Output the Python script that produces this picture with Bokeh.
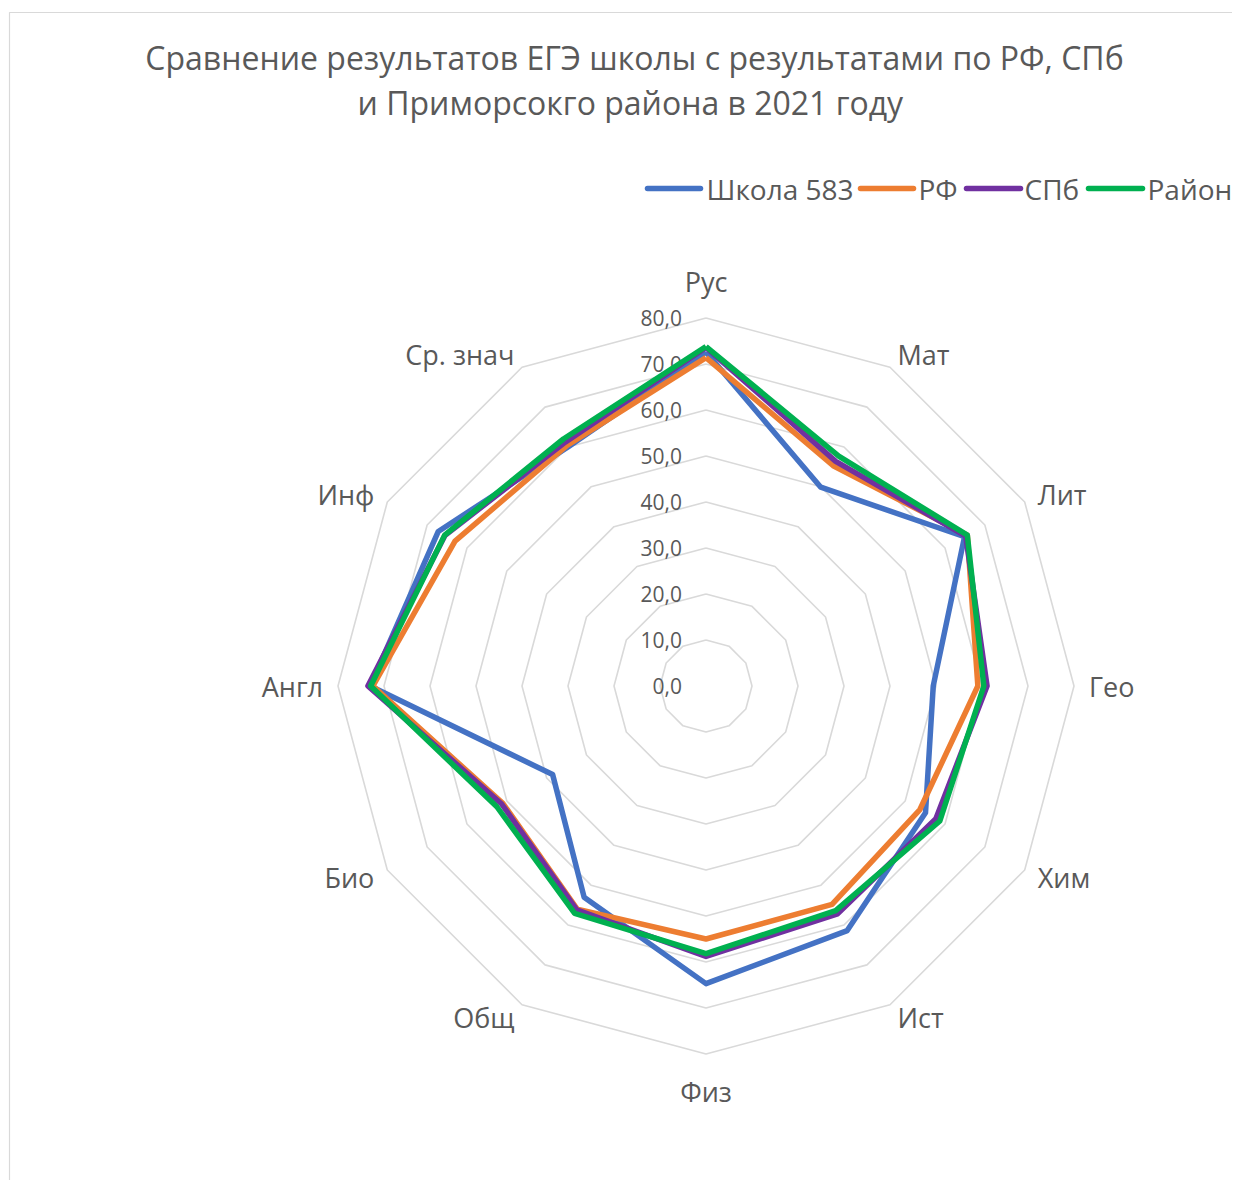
import math
from bokeh.plotting import figure
from bokeh.models import Range1d
from bokeh.core.properties import value
from bokeh.embed import file_html
from bokeh.resources import INLINE

# ---- data ----
categories = ["Рус", "Мат", "Лит", "Гео", "Хим", "Ист", "Физ", "Общ", "Био", "Англ", "Инф", "Ср. знач"]
school = [72.6, 49.9, 64.9, 49.4, 55.1, 61.4, 64.7, 53.0, 38.5, 73.0, 67.2, 60.0]
rf = [71.4, 55.3, 65.6, 59.1, 53.7, 54.8, 55.0, 56.0, 51.0, 72.4, 63.0, 60.4]
spb = [73.6, 56.4, 65.2, 61.1, 57.7, 57.2, 58.8, 56.2, 51.3, 73.5, 65.5, 61.2]
rayon = [73.8, 57.7, 65.6, 60.4, 58.7, 56.4, 58.2, 57.1, 52.5, 72.9, 65.6, 62.0]
series_names = ["Школа 583", "РФ", "СПб", "Район"]
series_values = [school, rf, spb, rayon]
series_colors = ["#4472C4", "#ED7D31", "#7030A0", "#00B050"]
tick_values = [0, 10, 20, 30, 40, 50, 60, 70, 80]
tick_labels = ["0,0", "10,0", "20,0", "30,0", "40,0", "50,0", "60,0", "70,0", "80,0"]
title_lines = ["Сравнение результатов ЕГЭ школы с результатами по РФ, СПб",
               "и Приморсокго района  в 2021 году"]

# ---- layout ----
W, H = 1232, 1180
OX, OY = 0, 0            # page px of figure's top-left as photographed
S = 4.6                  # px per unit
CX, CY = 705.5, 685.5    # page px of centre
FONT = "Open Sans"
TXT = "#595959"

def to(xp, yp):
    return ((xp - CX) / S, (CY - yp) / S)

p = figure(width=W, height=H, output_backend="svg", toolbar_location=None,
           x_range=Range1d((OX - CX) / S, (OX + W - CX) / S),
           y_range=Range1d((CY - OY - H) / S, (CY - OY) / S),
           min_border=0)
p.axis.visible = False
p.grid.visible = False
p.outline_line_color = None
p.background_fill_color = "white"
p.border_fill_color = "white"

# chart area border (left & top)
bx, by = zip(*[to(9, 1196), to(9, 12), to(1248, 12)])
p.line(list(bx), list(by), line_color="#d9d9d9", line_width=1.2)

n = len(categories)
angles = [math.pi / 2 - 2 * math.pi * k / n for k in range(n)]

# grid rings
gx, gy = [], []
for lv in tick_values[1:]:
    xs = [lv * math.cos(a) for a in angles] + [lv * math.cos(angles[0])]
    ys = [lv * math.sin(a) for a in angles] + [lv * math.sin(angles[0])]
    gx.append(xs)
    gy.append(ys)
p.multi_line(gx, gy, line_color="#d9d9d9", line_width=1.6)

# tick labels
p.text(x=[-24 / S] * len(tick_values), y=tick_values, text=tick_labels,
       text_font=value(FONT), text_font_size="21px", text_color=TXT,
       text_align="right", text_baseline="middle")

# series
for vals, col in zip(series_values, series_colors):
    xs = [v * math.cos(a) for v, a in zip(vals, angles)]
    ys = [v * math.sin(a) for v, a in zip(vals, angles)]
    xs.append(xs[0]); ys.append(ys[0])
    p.line(xs, ys, line_color=col, line_width=5.5, line_join="round")

# category labels
for cat, a in zip(categories, angles):
    c, s_ = math.cos(a), math.sin(a)
    if abs(c) < 1e-6:
        r = 405 / S
        align = "center"
    else:
        r = 383 / S
        align = "left" if c > 0 else "right"
    p.text(x=[r * c], y=[r * s_], text=[cat], text_font=value(FONT), text_font_size="27px",
           text_color=TXT, text_align=align, text_baseline="middle")

# title
for i, line in enumerate(title_lines):
    tx, ty = to(634, 57 + 45 * i)
    p.text(x=[tx], y=[ty], text=[line], text_font=value(FONT), text_font_size="32px",
           text_color=TXT, text_align="center", text_baseline="middle")

# legend
leg_lines = [(647, 700), (860, 913), (966, 1020), (1088, 1142)]
leg_text_x = [706, 918, 1024, 1147]
for name, col, (l0, l1), txp in zip(series_names, series_colors, leg_lines, leg_text_x):
    x0, y0 = to(l0, 188)
    x1, _ = to(l1, 188)
    p.segment(x0=[x0], y0=[y0], x1=[x1], y1=[y0], line_color=col, line_width=5.5,
              line_cap="round")
    tx, _ = to(txp, 188)
    p.text(x=[tx], y=[y0], text=[name], text_font=value(FONT), text_font_size="28px",
           text_color=TXT, text_align="left", text_baseline="middle")

open("out.html", "w").write(file_html(p, INLINE))
